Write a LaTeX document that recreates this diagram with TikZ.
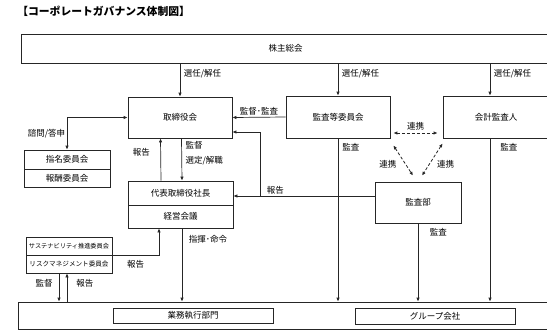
\documentclass[tikz,border=0pt]{standalone}
\usepackage{fontspec}
\setmainfont{Noto Sans CJK JP}
\usetikzlibrary{arrows.meta}

\begin{document}
\begin{tikzpicture}[x=1pt,y=-1pt,>={Latex[length=4pt,width=3.4pt]},
  line width=0.7pt,draw=black!85,
  box/.style={draw,inner sep=0pt,font=\fontsize{8.5}{10}\selectfont},
  lbl/.style={inner sep=1.5pt,font=\fontsize{8.5}{10}\selectfont},
  link/.style={<->,dashed,line width=0.8pt,dash pattern=on 3pt off 2pt}]
\clip (0,0) rectangle (547,330);
\node[anchor=west,inner sep=0pt,font=\fontsize{10.8}{12}\selectfont\bfseries] (title) at (17,11) {【コーポレートガバナンス体制図】};
\node[box,minimum width=529,minimum height=29] (soukai) at (285.5,48.5) {株主総会};
\node[box,minimum width=104,minimum height=41] (torishimari) at (180,117.5) {取締役会};
\node[box,minimum width=104,minimum height=42] (kansatou) at (338,117) {監査等委員会};
\node[box,minimum width=106,minimum height=42] (kaikei) at (496,117) {会計監査人};
\node[box,minimum width=86,minimum height=19] (shimei) at (67,159.5) {指名委員会};
\node[box,minimum width=86,minimum height=18] (houshu) at (67,178) {報酬委員会};
\node[box,minimum width=105,minimum height=24] (daihyo) at (180.5,193) {代表取締役社長};
\node[box,minimum width=105,minimum height=23] (keiei) at (180.5,216.5) {経営会議};
\node[box,minimum width=86,minimum height=41] (kansabu) at (418,202.5) {監査部};
\node[box,minimum width=86,minimum height=18,font=\fontsize{6.2}{7}\selectfont] (sustain) at (69,246) {サステナビリティ推進委員会};
\node[box,minimum width=86,minimum height=18,font=\fontsize{6.6}{7}\selectfont] (risk) at (69,264) {リスクマネジメント委員会};
\node[box,minimum width=532,minimum height=27] (outer) at (284,315.5) {};
\node[box,minimum width=160,minimum height=15] (gyomu) at (193,315.5) {業務執行部門};
\node[box,minimum width=160,minimum height=16] (group) at (435,316) {グループ会社};
\coordinate (j) at (260,196);

\draw[->] (torishimari.north |- soukai.south) -- (torishimari.north) node[lbl,pos=0.32,right,xshift=2] {選任/解任};
\draw[->] (kansatou.north |- soukai.south) -- (kansatou.north) node[lbl,pos=0.32,right,xshift=2] {選任/解任};
\draw[->] ([xshift=-6]kaikei.north |- soukai.south) -- ([xshift=-6]kaikei.north) node[lbl,pos=0.32,right,xshift=2] {選任/解任};
\draw[->] (kansatou.west) -- (torishimari.east) node[lbl,midway,above] {監督･監査};
\draw[<->] (shimei.north) |- (torishimari.west) node[lbl,pos=0.25,left] {諮問/答申};
\draw[->] ([xshift=-19.5]daihyo.north) -- ([xshift=-19.5]torishimari.south) node[lbl,pos=0.67,left,xshift=-9] {報告};
\draw[->] ([xshift=1.5]torishimari.south) -- ([xshift=1.5]daihyo.north) node[lbl,pos=0.34,right,xshift=2,align=left,font=\fontsize{8.5}{15}\selectfont] {監督\\選定/解職};
\draw[->] ([yshift=6.5]kansabu.west) -- ([yshift=-3]daihyo.east);
\draw[->] (j) |- ([yshift=-14.5]torishimari.east);
\node[lbl,above right,xshift=5] (houkoku) at (j) {報告};
\draw[->] ([xshift=1.5]keiei.south) -- ([xshift=1.5]keiei.south |- outer.north) node[lbl,pos=0.15,right,xshift=5] {指揮･命令};
\draw[->] (sustain.south east) -| ([xshift=-21.5]keiei.south) node[lbl,pos=0.25,below,yshift=-3.5] {報告};
\draw[->] ([xshift=-10]risk.south) -- ([xshift=-10]risk.south |- outer.north) node[lbl,pos=0.34,left,xshift=-4.5] {監督};
\draw[->] ([xshift=-2]risk.south |- outer.north) -- ([xshift=-2]risk.south) node[lbl,pos=0.66,right,xshift=7.5] {報告};
\draw[->] (kansatou.south) -- (kansatou.south |- outer.north) node[lbl,pos=0.055,right,xshift=2.5] {監査};
\draw[->] ([xshift=-6]kaikei.south) -- ([xshift=-6]kaikei.south |- outer.north) node[lbl,pos=0.055,right,xshift=8.5] {監査};
\draw[->] (kansabu.south) -- (kansabu.south |- outer.north) node[lbl,pos=0.11,right,xshift=10] {監査};
\draw[link] ([xshift=3,yshift=-16]kansatou.east) -- ([xshift=-5,yshift=-16]kaikei.west) node[lbl,midway,above,yshift=1] {連携};
\draw[link] ([xshift=3,yshift=-7]kansatou.south east) -- ([xshift=-5,yshift=6]kansabu.north) node[lbl,midway,left,xshift=-5,yshift=-4] {連携};
\draw[link] ([yshift=-5]kaikei.south west) -- ([xshift=4,yshift=6]kansabu.north) node[lbl,midway,right,xshift=3,yshift=-5] {連携};
\end{tikzpicture}
\end{document}
